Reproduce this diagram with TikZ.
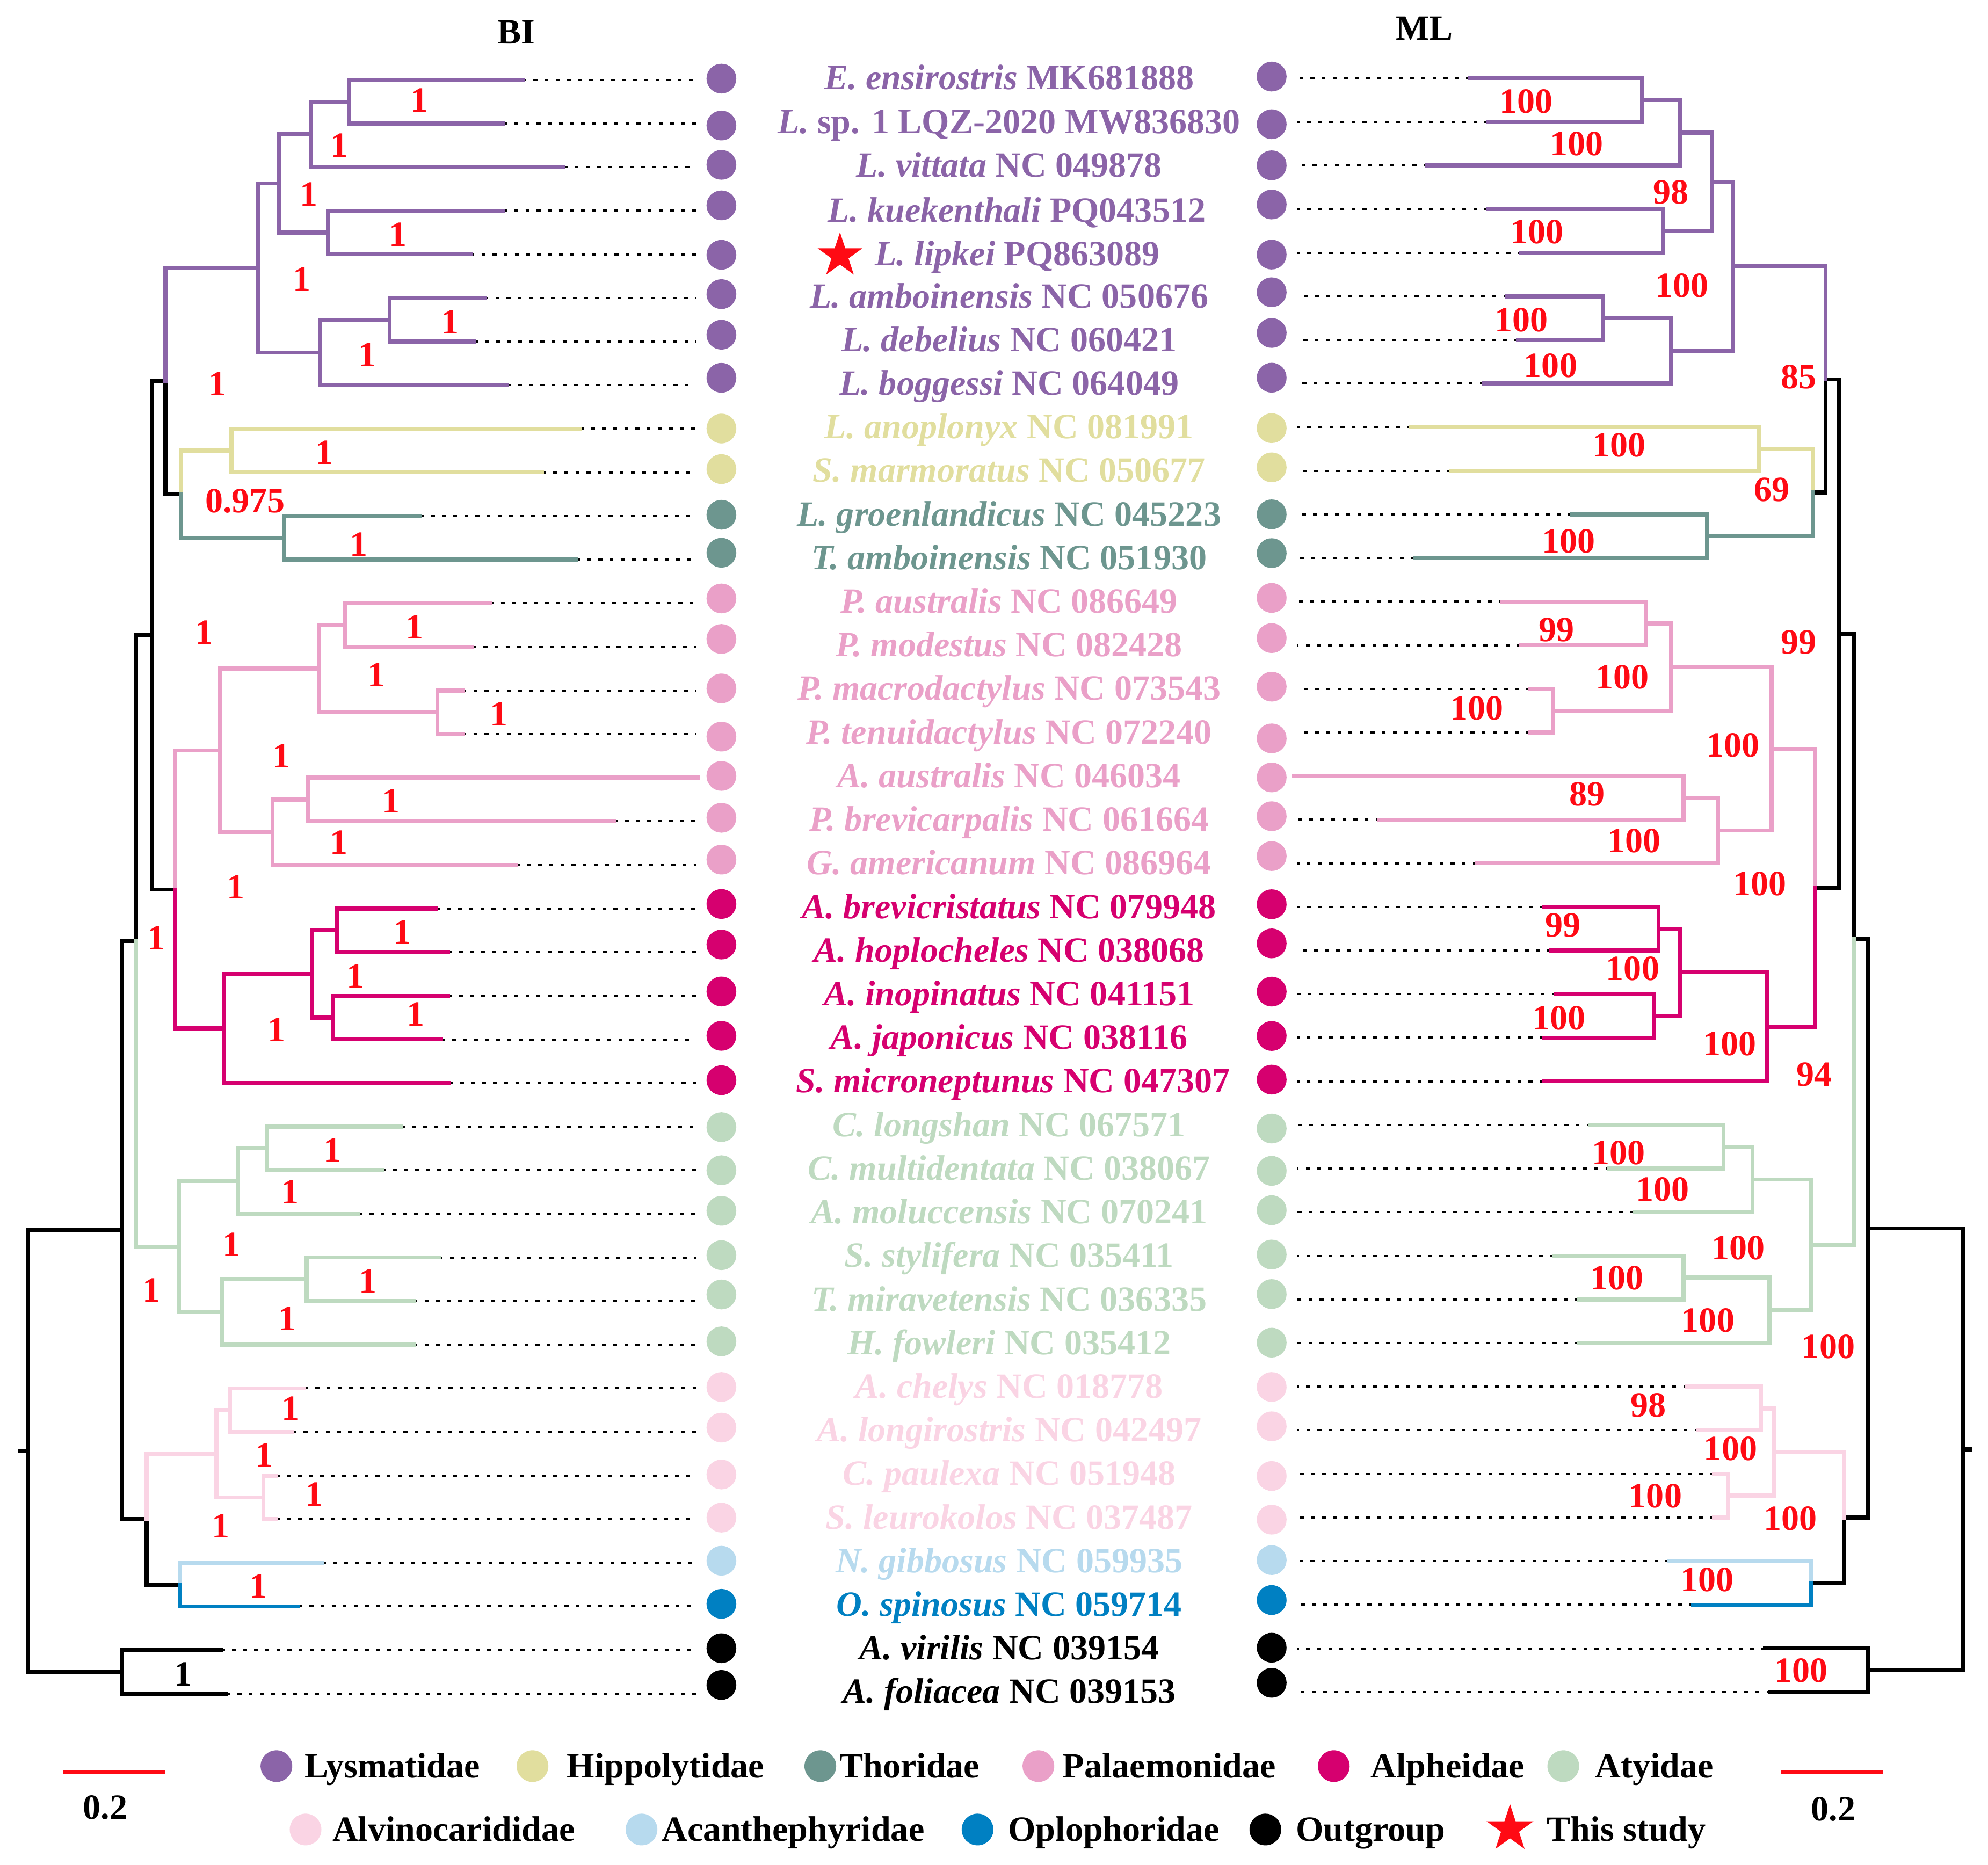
\documentclass[tikz,border=0pt]{standalone}
\usepackage{fontspec}
\setmainfont{Liberation Serif}
\usetikzlibrary{calc,shapes.geometric}
\definecolor{cLys}{RGB}{139,100,168}
\definecolor{cHip}{RGB}{225,222,158}
\definecolor{cTho}{RGB}{109,150,143}
\definecolor{cPal}{RGB}{234,160,200}
\definecolor{cAlp}{RGB}{214,0,111}
\definecolor{cAty}{RGB}{190,218,192}
\definecolor{cAlv}{RGB}{250,212,228}
\definecolor{cAca}{RGB}{183,218,238}
\definecolor{cOpl}{RGB}{0,128,194}
\definecolor{cRed}{RGB}{255,10,20}
\begin{document}
\begin{tikzpicture}[x=1pt,y=-1pt,
  tr/.style={line width=3.2pt,line cap=rect,line join=miter},
  dotl/.style={line width=1.7pt,dash pattern=on 3.1pt off 5.65pt,black},
  txt/.style={inner sep=0pt,font=\fontsize{28}{32}\selectfont\bfseries},
  lbl/.style={txt,anchor=base},
  sup/.style={txt,text=cRed},
  dotn/.style={circle,inner sep=0pt,minimum size=23.5pt},
  legdot/.style={circle,inner sep=0pt,minimum size=25pt},
  starn/.style={star,star points=5,star point ratio=2.618,fill=cRed,draw=none,inner sep=0pt},
  scalebar/.style={line width=3pt,cRed}
]
\useasboundingbox (0,0) rectangle (1568,1471);

% ---------- leaf tips ----------
\foreach \i/\xb/\xm in {1/412/1159.2,2/397/1174,3/444.4/1125.9,4/397/1174,5/371/1200,6/382/1188.9,7/373.7/1197.4,8/400/1170.3,9/457.4/1112.9,10/427.6/1144.4,11/331.3/1240,12/454.5/1115.9,13/386.3/1185.2,14/372.6/1199.3,15/364.7/1206.7,16/364.7/1206.7,17/550.8/1020.3,18/484/1088.1,19/407.1/1164.8,20/343.9/1217.8,21/353.2/1223.3,22/353.2/1227,23/347.8/1217.4,24/353.9/1217.4,25/316.2/1254.5,26/301.1/1269.3,27/282.8/1289,28/346/1225.9,29/326.2/1245.2,30/326.2/1245.2,31/240/1330.8,32/230.7/1339.7,33/217.4/1352,34/217.4/1352,35/254/1316.7,36/235.3/1335.3,37/174.3/1392,38/178.6/1396.4}
{\coordinate (b\i) at (\xb,{63+34.4*(\i-1)});
 \coordinate (m\i) at (\xm,{61.7+34.4*(\i-1)});}

% ---------- BI internal nodes ----------
\coordinate (bA12) at (275.6,80.2);
\coordinate (bA123) at (245.4,106.0);
\coordinate (bA45) at (258.7,183.4);
\coordinate (bA15) at (219.9,144.7);
\coordinate (bA67) at (307.2,252.2);
\coordinate (bA68) at (252.6,278.0);
\coordinate (bLys) at (203.7,211.4);
\coordinate (bHip) at (182.5,355.4);
\coordinate (bTho) at (223.8,424.2);
\coordinate (bHT) at (142.6,389.8);
\coordinate (bN1) at (130.4,300.6);
\coordinate (bP12) at (272,493);
\coordinate (bP34) at (344.9,561.8);
\coordinate (bP1) at (251.5,527.4);
\coordinate (bP567) at (242.9,630.6);
\coordinate (bP2) at (214.9,656.4);
\coordinate (bPal) at (173.5,591.9);
\coordinate (bA2021) at (265.9,733.8);
\coordinate (bA2223) at (262.3,802.6);
\coordinate (bAl1) at (246.1,768.2);
\coordinate (bAlph) at (176.8,811.2);
\coordinate (bPA) at (138.3,701.6);
\coordinate (bN2) at (119.6,501.1);
\coordinate (bAt12) at (210.2,905.8);
\coordinate (bAt1) at (187.9,931.6);
\coordinate (bAt34) at (241.8,1009);
\coordinate (bAt2) at (175,1034.8);
\coordinate (bAty) at (141.2,983.2);
\coordinate (bN3) at (107.1,742.2);
\coordinate (bAlv12) at (181.4,1112.2);
\coordinate (bAlv34) at (207.7,1181);
\coordinate (bAlv) at (170.7,1146.6);
\coordinate (bAO) at (141.9,1249.8);
\coordinate (bAAO) at (115.7,1198.2);
\coordinate (bN4) at (96.3,970.2);
\coordinate (bOut) at (96.3,1318.6);
\coordinate (broot) at (22.3,1144.4);
\coordinate (bstub) at (16.2,1144.4);

% ---------- ML internal nodes ----------
\coordinate (mA12) at (1295.2,78.9);
\coordinate (mA123) at (1325.3,104.7);
\coordinate (mA45) at (1311.9,182.1);
\coordinate (mA15) at (1350.1,143.4);
\coordinate (mA67) at (1264.1,250.9);
\coordinate (mA68) at (1317.8,276.7);
\coordinate (mLys) at (1366.8,210.05);
\coordinate (mHip) at (1387.1,354.1);
\coordinate (mTho) at (1346.4,422.9);
\coordinate (mHT) at (1429.8,388.5);
\coordinate (mN1) at (1439.8,299.3);
\coordinate (mP12) at (1298.2,491.7);
\coordinate (mP34) at (1225.2,560.5);
\coordinate (mP1) at (1317.8,526.1);
\coordinate (mP567) at (1327.9,629.3);
\coordinate (mP2) at (1354.9,655.1);
\coordinate (mPal) at (1397.2,590.6);
\coordinate (mA2021) at (1308.2,732.5);
\coordinate (mA2223) at (1304.5,801.3);
\coordinate (mAl1) at (1324.9,766.9);
\coordinate (mAlph) at (1393.4,809.9);
\coordinate (mPA) at (1431.6,700.25);
\coordinate (mN2) at (1450.2,499.8);
\coordinate (mAt12) at (1359.3,904.5);
\coordinate (mAt1) at (1382.3,930.3);
\coordinate (mAt34) at (1327.9,1007.7);
\coordinate (mAt2) at (1395.7,1033.5);
\coordinate (mAty) at (1428.6,981.9);
\coordinate (mN3) at (1462.4,740.85);
\coordinate (mAlv12) at (1389,1110.9);
\coordinate (mAlv34) at (1363,1179.7);
\coordinate (mAlv) at (1399.4,1145.3);
\coordinate (mAO) at (1428.6,1248.5);
\coordinate (mAAO) at (1454.6,1196.9);
\coordinate (mN4) at (1473.5,968.9);
\coordinate (mOut) at (1473.5,1317.3);
\coordinate (mroot) at (1548.3,1143.1);
\coordinate (mstub) at (1553.9,1143.1);

% ---------- leaf dots ----------
\foreach \i/\yl/\yr/\c in {1/62/60.4/cLys,2/99/98/cLys,3/130/130.4/cLys,4/162/161.3/cLys,5/201/200.8/cLys,6/232/230.5/cLys,7/264/262.6/cLys,8/298/297.9/cLys,9/338/337.7/cHip,10/370/368.6/cHip,11/406/405.7/cTho,12/436/436.3/cTho,13/472/471.6/cPal,14/504/503.3/cPal,15/543/541.6/cPal,16/581/582.4/cPal,17/612/613.2/cPal,18/645/643.8/cPal,19/678/675.2/cPal,20/713/713.2/cAlp,21/745/744.1/cAlp,22/782/782.1/cAlp,23/817/817.1/cAlp,24/852/851.5/cAlp,25/889/890.1/cAty,26/923/923.5/cAty,27/955/954.5/cAty,28/990/989.5/cAty,29/1021/1020.7/cAty,30/1058/1059/cAty,31/1094/1094/cAlv,32/1126/1125/cAlv,33/1163/1164.2/cAlv,34/1197/1198.6/cAlv,35/1231/1230.5/cAca,36/1265/1262/cOpl,37/1300/1299.6/black,38/1329/1327.3/black}
{\node[dotn,fill=\c] (l\i) at (569,\yl) {};
 \node[dotn,fill=\c] (r\i) at (1003,\yr) {};}

% ---------- dotted leader lines ----------
\foreach \i in {1,...,16} {
  \draw[dotl] (b\i) -- ($(b\i -| l\i.west)+(-8,0)$);
  \draw[dotl] (m\i) -- ($(m\i -| r\i.east)+(8,0)$);}
\foreach \i in {18,...,38} {
  \draw[dotl] (b\i) -- ($(b\i -| l\i.west)+(-8,0)$);
  \draw[dotl] (m\i) -- ($(m\i -| r\i.east)+(8,0)$);}

% ---------- BI tree ----------
\draw[tr,black] (bN1) |- (bHT) (bN2) |- (bN1) (bN2) |- (bPA) (bN3) |- (bN2) (bN4) |- (bN3) (bN4) |- (bAAO) (bAAO) |- (bAO) (broot) |- (bN4) (broot) |- (bOut) (bOut) |- (b37) (bOut) |- (b38) (broot) -- (bstub);
\draw[tr,cLys] (bA12) |- (b1) (bA12) |- (b2) (bA123) |- (bA12) (bA123) |- (b3) (bA45) |- (b4) (bA45) |- (b5) (bA15) |- (bA123) (bA15) |- (bA45) (bA67) |- (b6) (bA67) |- (b7) (bA68) |- (bA67) (bA68) |- (b8) (bLys) |- (bA15) (bLys) |- (bA68) (bN1) |- (bLys);
\draw[tr,cHip] (bHT) |- (bHip) (bHip) |- (b9) (bHip) |- (b10);
\draw[tr,cTho] (bHT) |- (bTho) (bTho) |- (b11) (bTho) |- (b12);
\draw[tr,cPal] (bPA) |- (bPal) (bPal) |- (bP1) (bPal) |- (bP2) (bP1) |- (bP12) (bP1) |- (bP34) (bP12) |- (b13) (bP12) |- (b14) (bP34) |- (b15) (bP34) |- (b16) (bP2) |- (bP567) (bP2) |- (b19) (bP567) |- (b17) (bP567) |- (b18);
\draw[tr,cAlp] (bPA) |- (bAlph) (bAlph) |- (bAl1) (bAlph) |- (b24) (bAl1) |- (bA2021) (bAl1) |- (bA2223) (bA2021) |- (b20) (bA2021) |- (b21) (bA2223) |- (b22) (bA2223) |- (b23);
\draw[tr,cAty] (bN3) |- (bAty) (bAty) |- (bAt1) (bAty) |- (bAt2) (bAt1) |- (bAt12) (bAt1) |- (b27) (bAt12) |- (b25) (bAt12) |- (b26) (bAt2) |- (bAt34) (bAt2) |- (b30) (bAt34) |- (b28) (bAt34) |- (b29);
\draw[tr,cAlv] (bAAO) |- (bAlv) (bAlv) |- (bAlv12) (bAlv) |- (bAlv34) (bAlv12) |- (b31) (bAlv12) |- (b32) (bAlv34) |- (b33) (bAlv34) |- (b34);
\draw[tr,cAca] (bAO) |- (b35);
\draw[tr,cOpl] (bAO) |- (b36);

% ---------- ML tree ----------
\draw[tr,black] (mN1) |- (mHT) (mN2) |- (mN1) (mN2) |- (mPA) (mN3) |- (mN2) (mN4) |- (mN3) (mN4) |- (mAAO) (mAAO) |- (mAO) (mroot) |- (mN4) (mroot) |- (mOut) (mOut) |- (m37) (mOut) |- (m38) (mroot) -- (mstub);
\draw[tr,cLys] (mA12) |- (m1) (mA12) |- (m2) (mA123) |- (mA12) (mA123) |- (m3) (mA45) |- (m4) (mA45) |- (m5) (mA15) |- (mA123) (mA15) |- (mA45) (mA67) |- (m6) (mA67) |- (m7) (mA68) |- (mA67) (mA68) |- (m8) (mLys) |- (mA15) (mLys) |- (mA68) (mN1) |- (mLys);
\draw[tr,cHip] (mHT) |- (mHip) (mHip) |- (m9) (mHip) |- (m10);
\draw[tr,cTho] (mHT) |- (mTho) (mTho) |- (m11) (mTho) |- (m12);
\draw[tr,cPal] (mPA) |- (mPal) (mPal) |- (mP1) (mPal) |- (mP2) (mP1) |- (mP12) (mP1) |- (mP34) (mP12) |- (m13) (mP12) |- (m14) (mP34) |- (m15) (mP34) |- (m16) (mP2) |- (mP567) (mP2) |- (m19) (mP567) |- (m17) (mP567) |- (m18);
\draw[tr,cAlp] (mPA) |- (mAlph) (mAlph) |- (mAl1) (mAlph) |- (m24) (mAl1) |- (mA2021) (mAl1) |- (mA2223) (mA2021) |- (m20) (mA2021) |- (m21) (mA2223) |- (m22) (mA2223) |- (m23);
\draw[tr,cAty] (mN3) |- (mAty) (mAty) |- (mAt1) (mAty) |- (mAt2) (mAt1) |- (mAt12) (mAt1) |- (m27) (mAt12) |- (m25) (mAt12) |- (m26) (mAt2) |- (mAt34) (mAt2) |- (m30) (mAt34) |- (m28) (mAt34) |- (m29);
\draw[tr,cAlv] (mAAO) |- (mAlv) (mAlv) |- (mAlv12) (mAlv) |- (mAlv34) (mAlv12) |- (m31) (mAlv12) |- (m32) (mAlv34) |- (m33) (mAlv34) |- (m34);
\draw[tr,cAca] (mAO) |- (m35);
\draw[tr,cOpl] (mAO) |- (m36);

% ---------- support values ----------
\foreach \x/\y/\t [count=\k] in {330.6/78.9/1,267.7/114.8/1,243.6/153.1/1,313.7/184.9/1,237.9/220.2/1,355/253.8/1,289.6/279.7/1,171.4/302.6/1,255.8/356.8/1,193.3/395.1/0.975,282.8/429.2/1,161/498.9/1,327/494.5/1,296.8/532.2/1,393.4/563.1/1,222/596.4/1,308.3/632/1,267.3/664.5/1,185.8/699.5/1,123.2/740/1,317.3/735.3/1,280.3/769.7/1,327.7/800/1,218.1/812.4/1,262.3/907/1,228.9/940.1/1,182.5/981.5/1,119.6/1017.6/1,290/1010.5/1,226.4/1039.9/1,229.2/1110.9/1,208.4/1147.6/1,247.9/1178.5/1,173.9/1203.4/1,203.7/1251.2/1}
{\node[sup] (bs\k) at (\x,\y) {\t};}
\node[txt] (bsOut) at (144.4,1320.3) {1};
\foreach \x/\y/\t [count=\k] in {1203.7/80.1/100,1243.7/113.3/100,1317.8/151.6/98,1212.2/183.1/100,1326.4/225.2/100,1200/252.3/100,1223/288.5/100,1418.6/297.3/85,1277.1/351.2/100,1397.5/386.3/69,1237.1/426.9/100,1227.8/497/99,1418.6/506.6/99,1279.7/534.2/100,1164.8/558.4/100,1366.8/587.9/100,1251.9/626.5/89,1288.9/663.1/100,1387.9/697.3/100,1232.6/729.8/99,1287.8/764.2/100,1229.6/802.8/100,1364.2/823.4/100,1430.9/847.7/94,1276.7/909.2/100,1311.2/937.9/100,1371.2/984.1/100,1275.2/1008/100,1347.1/1041.5/100,1442/1062.2/100,1300.1/1108.4/98,1364.9/1142.8/100,1305.6/1180.1/100,1412/1197.6/100,1346.4/1246.1/100,1420.5/1317.8/100}
{\node[sup] (ms\k) at (\x,\y) {\t};}

% ---------- titles ----------
\node[txt] (tBI) at (407,25.5) {BI};
\node[txt] (tML) at (1123.6,22.5) {ML};

% ---------- taxon labels ----------
\node[lbl,text=cLys] (t1) at (796,70.7) {\textit{E. ensirostris} MK681888};
\node[lbl,text=cLys] (t2) at (796,105.1) {\textit{L.} sp. 1 LQZ-2020 MW836830};
\node[lbl,text=cLys] (t3) at (796,139.5) {\textit{L. vittata} NC 049878};
\node[lbl,text=cLys] (t4) at (802,175) {\textit{L. kuekenthali} PQ043512};
\node[lbl,text=cLys] (t5) at (802.5,209.5) {\textit{L. lipkei} PQ863089};
\node[lbl,text=cLys] (t6) at (796,242.7) {\textit{L. amboinensis} NC 050676};
\node[lbl,text=cLys] (t7) at (796,277.1) {\textit{L. debelius} NC 060421};
\node[lbl,text=cLys] (t8) at (796,311.5) {\textit{L. boggessi} NC 064049};
\node[lbl,text=cHip] (t9) at (796,345.9) {\textit{L. anoplonyx} NC 081991};
\node[lbl,text=cHip] (t10) at (796,380.3) {\textit{S. marmoratus} NC 050677};
\node[lbl,text=cTho] (t11) at (796,414.7) {\textit{L. groenlandicus} NC 045223};
\node[lbl,text=cTho] (t12) at (796,449.1) {\textit{T. amboinensis} NC 051930};
\node[lbl,text=cPal] (t13) at (796,483.5) {\textit{P. australis} NC 086649};
\node[lbl,text=cPal] (t14) at (796,517.9) {\textit{P. modestus} NC 082428};
\node[lbl,text=cPal] (t15) at (796,552.3) {\textit{P. macrodactylus} NC 073543};
\node[lbl,text=cPal] (t16) at (796,586.7) {\textit{P. tenuidactylus} NC 072240};
\node[lbl,text=cPal] (t17) at (796,621.1) {\textit{A. australis} NC 046034};
\node[lbl,text=cPal] (t18) at (796,655.5) {\textit{P. brevicarpalis} NC 061664};
\node[lbl,text=cPal] (t19) at (796,689.9) {\textit{G. americanum} NC 086964};
\node[lbl,text=cAlp] (t20) at (796,724.3) {\textit{A. brevicristatus} NC 079948};
\node[lbl,text=cAlp] (t21) at (796,758.7) {\textit{A. hoplocheles} NC 038068};
\node[lbl,text=cAlp] (t22) at (796,793.1) {\textit{A. inopinatus} NC 041151};
\node[lbl,text=cAlp] (t23) at (796,827.5) {\textit{A. japonicus} NC 038116};
\node[lbl,text=cAlp] (t24) at (799,861.9) {\textit{S. microneptunus} NC 047307};
\node[lbl,text=cAty] (t25) at (796,896.3) {\textit{C. longshan} NC 067571};
\node[lbl,text=cAty] (t26) at (796,930.7) {\textit{C. multidentata} NC 038067};
\node[lbl,text=cAty] (t27) at (796,965.1) {\textit{A. moluccensis} NC 070241};
\node[lbl,text=cAty] (t28) at (796,999.5) {\textit{S. stylifera} NC 035411};
\node[lbl,text=cAty] (t29) at (796,1033.9) {\textit{T. miravetensis} NC 036335};
\node[lbl,text=cAty] (t30) at (796,1068.3) {\textit{H. fowleri} NC 035412};
\node[lbl,text=cAlv] (t31) at (796,1102.7) {\textit{A. chelys} NC 018778};
\node[lbl,text=cAlv] (t32) at (796,1137.1) {\textit{A. longirostris} NC 042497};
\node[lbl,text=cAlv] (t33) at (796,1171.5) {\textit{C. paulexa} NC 051948};
\node[lbl,text=cAlv] (t34) at (796,1205.9) {\textit{S. leurokolos} NC 037487};
\node[lbl,text=cAca] (t35) at (796,1240.3) {\textit{N. gibbosus} NC 059935};
\node[lbl,text=cOpl] (t36) at (796,1274.7) {\textit{O. spinosus} NC 059714};
\node[lbl,text=black] (t37) at (796,1309.1) {\textit{A. virilis} NC 039154};
\node[lbl,text=black] (t38) at (796,1343.5) {\textit{A. foliacea} NC 039153};
\node[starn,minimum size=37pt] (star5) at (662.5,201.6) {};

% ---------- scale bars ----------
\coordinate (sl1) at (50,1398);
\coordinate (sl2) at (130,1398);
\coordinate (sr1) at (1405,1398);
\coordinate (sr2) at (1485,1398);
\draw[scalebar] (sl1) -- (sl2);
\draw[scalebar] (sr1) -- (sr2);
\node[txt] (sbl) at (83,1425.6) {0.2};
\node[txt] (sbr) at (1446,1427) {0.2};

% ---------- legend ----------
\foreach \dx/\tx/\c/\name [count=\k] in {218/240/cLys/Lysmatidae,420/447/cHip/Hippolytidae,647/662/cTho/Thoridae,819/838/cPal/Palaemonidae,1052/1081/cAlp/Alpheidae,1233/1258/cAty/Atyidae}
{\node[legdot,fill=\c] (g\k) at (\dx,1393) {};
 \node[txt,anchor=base west] (gt\k) at (\tx,1402.2) {\name};}
\foreach \dx/\tx/\c/\name [count=\k] in {241/262/cAlv/Alvinocarididae,506/522/cAca/Acanthephyridae,771/795/cOpl/Oplophoridae,998/1022/black/Outgroup}
{\node[legdot,fill=\c] (h\k) at (\dx,1443) {};
 \node[txt,anchor=base west] (ht\k) at (\tx,1452.2) {\name};}
\node[starn,minimum size=39pt] (hstar) at (1191,1442.5) {};
\node[txt,anchor=base west] (htstar) at (1220,1452.2) {This study};
\end{tikzpicture}
\end{document}
